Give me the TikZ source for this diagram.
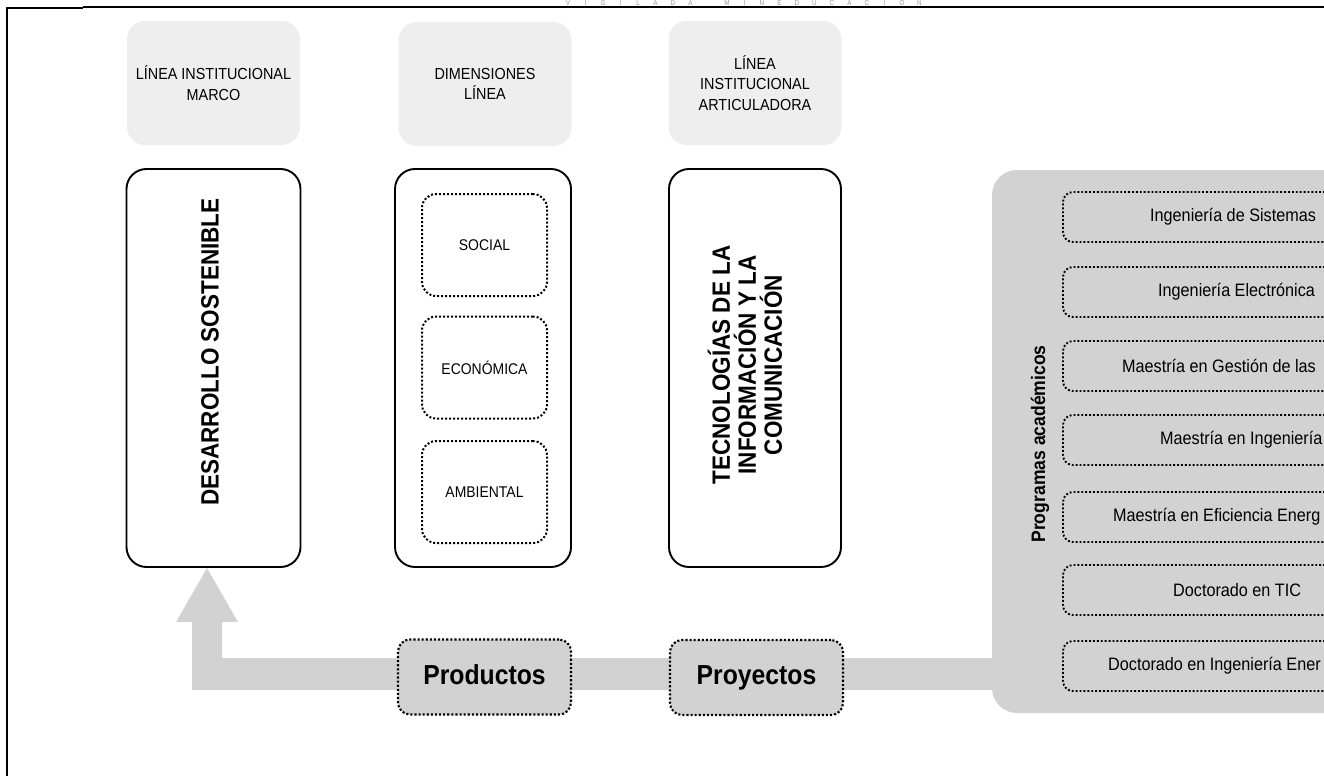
\documentclass[tikz,border=0pt]{standalone}
\usepackage{fontspec}
\setmainfont{Liberation Sans}
\newfontfamily\narrow[FakeStretch=0.9]{Liberation Sans}

\definecolor{headfill}{RGB}{238,238,238}
\definecolor{bandgray}{RGB}{210,210,210}
\definecolor{stampgray}{RGB}{150,150,150}

\tikzset{
  headbox/.style={fill=headfill, rounded corners=18pt, minimum width=173pt,
    minimum height=124pt, inner sep=0pt, align=center,
    font=\narrow\fontsize{16}{20.5}\selectfont},
  mainbox/.style={draw=black, line width=1.9pt, rounded corners=20pt, fill=white,
    minimum width=174pt, minimum height=398pt, inner sep=0pt},
  bigtext/.style={rotate=90, align=center, inner sep=0pt,
    font=\narrow\bfseries\fontsize{25}{26}\selectfont},
  dimbox/.style={draw=black, line width=2pt, dash pattern=on 2pt off 2pt,
    rounded corners=14pt, minimum width=125pt, minimum height=102pt,
    inner sep=0pt, font=\narrow\fontsize{15.5}{18}\selectfont},
  prodbox/.style={fill=bandgray, draw=black, line width=2.1pt,
    dash pattern=on 2.1pt off 2pt, rounded corners=12pt,
    minimum width=173pt, minimum height=75pt, inner sep=0pt,
    text height=20pt, text depth=6pt,
    font=\narrow\bfseries\fontsize{27.5}{29}\selectfont},
  progbox/.style={draw=black, line width=1.9pt, dash pattern=on 1.9pt off 2pt,
    rounded corners=10pt, minimum width=350pt, minimum height=50pt,
    inner sep=0pt},
  progtext/.style={anchor=west, inner sep=0pt,
    font=\narrow\fontsize{18}{20}\selectfont},
  stamp/.style={anchor=base, inner sep=0pt, text=stampgray,
    font=\narrow\fontsize{7}{7}\selectfont},
}

\begin{document}
\begin{tikzpicture}[x=1pt, y=-1pt]
\useasboundingbox (0,0) rectangle (1324,776);
\clip (0,0) rectangle (1324,776);

% page frame
\draw[line width=1.5pt] (83,7) -- (1324,7);
\draw[line width=2pt] (83,8.5) -- (7,8.5) -- (7,776);

% stamp along the top edge
\foreach \c [count=\i from 0] in {V,I,G,I,L,A,D,A}
  \node[stamp] (va\i) at (568+17.5*\i, 5.6) {\c};
\foreach \c [count=\i from 0] in {M,I,N,E,D,U,C,A,C,I,O,N}
  \node[stamp] (vb\i) at (727+17.5*\i, 5.6) {\c};

% column headers
\node[headbox] (h1) at (213.5,83) {LÍNEA INSTITUCIONAL\\MARCO};
\node[headbox] (h2) at (485,84) {DIMENSIONES\\LÍNEA};
\node[headbox] (h3) at (755,83) {LÍNEA\\INSTITUCIONAL\\ARTICULADORA};

% flow band with arrow up into the first column
\fill[bandgray] (1000,658) -- (222,658) -- (222,622) -- (238,622) -- (207,568)
  -- (176,622) -- (192,622) -- (192,690) -- (1000,690) -- cycle;

% main columns
\node[mainbox] (m1) at (213.5,368) {};
\node[bigtext] (t1) at (210,352) {DESARROLLO SOSTENIBLE};

\node[mainbox, minimum width=176pt] (m2) at (483,368) {};
\node[dimbox] (d1) at (484.5,245) {SOCIAL};
\node[dimbox] (d2) at (484.5,367.5) {ECONÓMICA};
\node[dimbox] (d3) at (484.5,492) {AMBIENTAL};

\node[mainbox, minimum width=172pt] (m3) at (755,368) {};
\node[bigtext] (t3) at (745,365) {TECNOLOGÍAS DE LA\\INFORMACIÓN Y LA\\COMUNICACIÓN};

% products and projects on the band
\node[prodbox] (pr1) at (484.5,677) {Productos};
\node[prodbox] (pr2) at (756.5,677.5) {Proyectos};

% academic programmes panel
\fill[bandgray, rounded corners=25pt] (992,170) rectangle (1460,713);
\node[rotate=90, inner sep=0pt, font=\narrow\bfseries\fontsize{19.5}{20}\selectfont]
  (plabel) at (1040,444) {Programas académicos};

\node[progbox] (p1) at (1238,217) {};
\node[progbox] (p2) at (1238,292) {};
\node[progbox] (p3) at (1238,366) {};
\node[progbox] (p4) at (1238,440) {};
\node[progbox] (p5) at (1238,517) {};
\node[progbox] (p6) at (1238,590) {};
\node[progbox] (p7) at (1238,666) {};
\node[progtext] (q1) at (1150,217) {Ingeniería de Sistemas};
\node[progtext] (q2) at (1158,292) {Ingeniería Electrónica};
\node[progtext] (q3) at (1122,366) {Maestría en Gestión de las};
\node[progtext] (q4) at (1160,440) {Maestría en Ingeniería};
\node[progtext] (q5) at (1113,517) {Maestría en Eficiencia Energ};
\node[progtext] (q6) at (1173,590) {Doctorado en TIC};
\node[progtext] (q7) at (1108,666) {Doctorado en Ingeniería Ener};
\end{tikzpicture}
\end{document}
